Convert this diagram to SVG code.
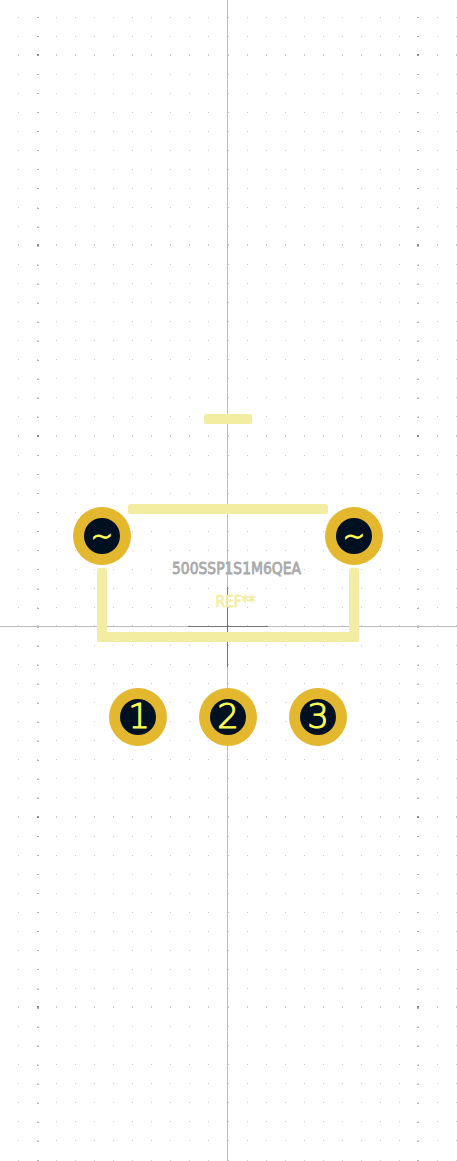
<svg xmlns="http://www.w3.org/2000/svg" width="457" height="1161" viewBox="0 0 457 1161">
<style>
.bg{fill:#fff}
.row{stroke:#c9c9c9;stroke-width:1;stroke-dasharray:1 18.05;shape-rendering:crispEdges;fill:none}
.col{stroke:#b5b5b5;stroke-width:2;stroke-dasharray:1 18.05;shape-rendering:crispEdges;fill:none}
.cross{fill:#8c8c8c;shape-rendering:crispEdges}
.ax{stroke:#bdbdbd;stroke-width:1;fill:none;shape-rendering:crispEdges}
.anch{stroke:#777;stroke-width:1;fill:none;shape-rendering:crispEdges}
.silk{fill:#f2eda1}
.pad{fill:#e3b72e}
.hole{fill:#001023}
.num{fill:#ffff55;stroke:#ffff55;stroke-width:1;font-family:"DejaVu Sans",sans-serif;font-weight:200;text-anchor:middle;font-size:34px}
.tld{font-size:26px;stroke-width:1.2}
.val{fill:#a9a9a9;stroke:#a9a9a9;stroke-width:.8;font-family:"DejaVu Sans",sans-serif;font-size:16.500px;text-anchor:middle}
.ref{fill:#f2eda1;stroke:#f2eda1;stroke-width:.7;font-family:"DejaVu Sans",sans-serif;font-size:15px;text-anchor:middle}
</style>
<defs>
<path id="r" d="M0 0H457"/>
<path id="c" d="M0 0V1161"/>
</defs>
<rect class="bg" width="457" height="1161"/>
<g id="grid">
<g class="row" transform="translate(18 0)">
<use href="#r" y="17.5"/><use href="#r" y="36.5"/><use href="#r" y="74.5"/><use href="#r" y="93.5"/><use href="#r" y="112.5"/><use href="#r" y="131.5"/><use href="#r" y="150.5"/><use href="#r" y="169.5"/><use href="#r" y="188.5"/><use href="#r" y="207.5"/><use href="#r" y="226.5"/><use href="#r" y="264.5"/><use href="#r" y="283.5"/><use href="#r" y="302.5"/><use href="#r" y="321.5"/><use href="#r" y="340.5"/><use href="#r" y="359.5"/><use href="#r" y="378.5"/><use href="#r" y="397.5"/><use href="#r" y="416.5"/><use href="#r" y="455.5"/><use href="#r" y="474.5"/><use href="#r" y="493.5"/><use href="#r" y="512.5"/><use href="#r" y="531.5"/><use href="#r" y="550.5"/><use href="#r" y="569.5"/><use href="#r" y="588.5"/><use href="#r" y="607.5"/><use href="#r" y="645.5"/><use href="#r" y="664.5"/><use href="#r" y="683.5"/><use href="#r" y="702.5"/><use href="#r" y="721.5"/><use href="#r" y="740.5"/><use href="#r" y="759.5"/><use href="#r" y="778.5"/><use href="#r" y="797.5"/><use href="#r" y="836.5"/><use href="#r" y="855.5"/><use href="#r" y="874.5"/><use href="#r" y="893.5"/><use href="#r" y="912.5"/><use href="#r" y="931.5"/><use href="#r" y="950.5"/><use href="#r" y="969.5"/><use href="#r" y="988.5"/><use href="#r" y="1026.5"/><use href="#r" y="1045.5"/><use href="#r" y="1064.5"/><use href="#r" y="1083.5"/><use href="#r" y="1102.5"/><use href="#r" y="1121.5"/><use href="#r" y="1140.5"/><use href="#r" y="1160"/>
</g>
<g class="row" style="stroke-width:2" transform="translate(18 0)">
<use href="#r" y="55"/><use href="#r" y="245"/><use href="#r" y="436"/><use href="#r" y="626"/><use href="#r" y="817"/><use href="#r" y="1007"/>
</g>
<g class="col" transform="translate(0 17)">
<use href="#c" x="38"/><use href="#c" x="418"/>
</g>
<g class="cross">
<rect x="37" y="54" width="2" height="2"/><rect x="417" y="54" width="2" height="2"/>
<rect x="37" y="244" width="2" height="2"/><rect x="417" y="244" width="2" height="2"/>
<rect x="37" y="435" width="2" height="2"/><rect x="417" y="435" width="2" height="2"/>
<rect x="37" y="816" width="2" height="2"/><rect x="417" y="816" width="2" height="2"/>
<rect x="37" y="1006" width="2" height="2"/><rect x="417" y="1006" width="2" height="2"/>
</g>
</g>
<g id="axes">
<path class="ax" d="M227.5 0V1161M0 626.5H457"/>
<path class="anch" d="M188 626.5H268M227.5 587V667"/>
</g>
<g id="silkscreen">
<rect class="silk" x="128" y="504" width="200" height="10" rx="2.500"/>
<rect class="silk" x="204" y="414" width="48" height="10" rx="2.500"/>
<rect class="silk" x="97" y="568" width="10" height="74" rx="2.500"/>
<rect class="silk" x="349" y="568" width="10" height="74" rx="2.500"/>
<rect class="silk" x="97" y="632" width="262" height="10" rx="2.500"/>
</g>
<g id="value"><text class="val" x="236.500" y="574" textLength="129" lengthAdjust="spacingAndGlyphs">500SSP1S1M6QEA</text></g>
<g id="reference"><text class="ref" x="235.500" y="607" textLength="40" lengthAdjust="spacingAndGlyphs">REF**</text></g>
<g id="pad-tilde-left"><circle class="pad" cx="102" cy="536" r="29"/><circle class="hole" cx="102" cy="536" r="18"/><text class="num tld" x="102" y="545">~</text></g>
<g id="pad-tilde-right"><circle class="pad" cx="354" cy="536" r="29"/><circle class="hole" cx="354" cy="536" r="18"/><text class="num tld" x="354" y="545">~</text></g>
<g id="pad-1"><circle class="pad" cx="138" cy="717" r="29"/><circle class="hole" cx="138" cy="717" r="18"/><text class="num" x="139" y="728">1</text></g>
<g id="pad-2"><circle class="pad" cx="228" cy="717" r="29"/><circle class="hole" cx="228" cy="717" r="18"/><text class="num" x="228" y="728">2</text></g>
<g id="pad-3"><circle class="pad" cx="318" cy="717" r="29"/><circle class="hole" cx="318" cy="717" r="18"/><text class="num" x="318" y="728">3</text></g>
</svg>
